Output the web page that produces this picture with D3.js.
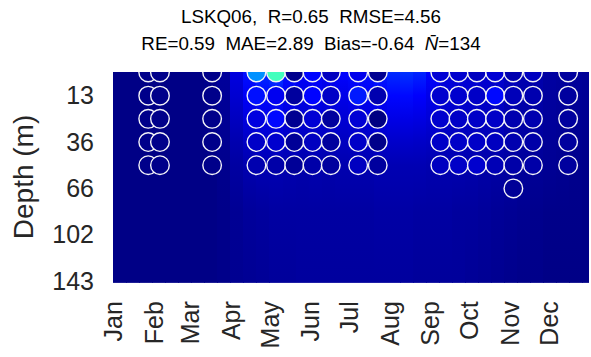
<!DOCTYPE html>
<html><head><meta charset="utf-8">
<script src="https://cdn.jsdelivr.net/npm/d3@7"></script>
<style>
body{margin:0;background:#fff}
svg{display:block}
text{font-family:"Liberation Sans",Arial,Helvetica,sans-serif}
</style>
</head><body>
<svg id="chart" width="591" height="357"></svg>
<script>
// ---------------- data ----------------
const titleLine1 = "LSKQ06,  R=0.65  RMSE=4.56";
const titleLine2 = "RE=0.59  MAE=2.89  Bias=-0.64  ";
const monthLabels = ["Jan","Feb","Mar","Apr","May","Jun","Jul","Aug","Sep","Oct","Nov","Dec"];
const depthTickLevels = [1,3,5,7,9];
const depthTickLabels = ["13","36","66","102","143"];

// model field: start day of each 10-day bin, depth-level index of profile values
const modelDays = [0,10,20,30,40,50,60,70,80,90,100,110,120,130,140,150,160,170,180,190,200,210,220,230,240,250,260,270,280,290,300,310,320,330,340,350,360];
const modelLevels = [0,1,2,3,4,6,9];
const modelValues = [
  [0.2,0.2,0.2,0.2,0.2,0.2,0.2],
  [0.2,0.2,0.2,0.2,0.2,0.2,0.2],
  [0.2,0.2,0.2,0.2,0.2,0.2,0.2],
  [0.2,0.2,0.2,0.2,0.2,0.2,0.2],
  [0.2,0.2,0.2,0.2,0.2,0.2,0.2],
  [0.2,0.2,0.2,0.2,0.2,0.2,0.2],
  [0.2,0.2,0.2,0.2,0.2,0.2,0.2],
  [0.3,0.3,0.3,0.25,0.2,0.2,0.2],
  [0.8,0.7,0.6,0.5,0.4,0.3,0.3],
  [2.8,2.4,1.9,1.4,1.0,0.6,0.5],
  [4.2,3.5,2.8,2.0,1.4,0.8,0.6],
  [5.0,4.0,3.0,2.2,1.5,0.9,0.7],
  [5.5,4.0,3.0,2.2,1.5,1.0,0.8],
  [4.2,3.4,2.6,2.0,1.4,1.0,0.8],
  [3.6,3.0,2.4,1.8,1.3,1.0,0.9],
  [3.8,3.2,2.5,1.9,1.4,1.0,0.9],
  [3.4,3.0,2.4,1.8,1.3,1.0,0.9],
  [3.8,3.1,2.5,1.9,1.4,1.0,0.9],
  [4.0,3.3,2.6,2.0,1.4,1.0,0.9],
  [4.2,3.4,2.6,2.0,1.4,1.0,0.9],
  [4.6,3.6,2.8,2.1,1.5,1.1,0.9],
  [5.0,3.9,3.0,2.2,1.5,1.1,0.9],
  [5.2,4.0,3.0,2.2,1.5,1.1,0.9],
  [4.8,3.7,2.9,2.1,1.5,1.0,0.8],
  [3.8,3.1,2.6,2.0,1.4,1.0,0.8],
  [2.8,2.5,2.2,1.8,1.4,1.0,0.8],
  [2.6,2.4,2.1,1.8,1.4,0.9,0.8],
  [2.5,2.3,2.0,1.7,1.3,0.9,0.7],
  [2.4,2.2,1.9,1.6,1.2,0.8,0.6],
  [2.3,2.1,1.8,1.5,1.1,0.7,0.5],
  [1.8,1.6,1.4,1.2,1.0,0.6,0.4],
  [1.4,1.3,1.1,1.0,0.8,0.5,0.3],
  [1.3,1.2,1.0,0.9,0.7,0.4,0.3],
  [1.0,0.9,0.8,0.7,0.6,0.3,0.2],
  [0.9,0.8,0.7,0.6,0.5,0.3,0.2],
  [0.8,0.7,0.6,0.5,0.4,0.3,0.2],
  [0.7,0.6,0.5,0.4,0.3,0.2,0.2]
];

// observations (circles)
const obsDates = ["2019-01-28","2019-02-06","2019-03-18","2019-04-21","2019-05-06","2019-05-20","2019-06-03","2019-06-17","2019-07-08","2019-07-23","2019-09-09","2019-09-23","2019-10-07","2019-10-21","2019-11-04","2019-11-19","2019-12-16"];
const obsLevel0 = [0.3,0.3,0.3,8.0,13.2,0.4,3.9,1.9,3.2,0.5,2.5,2.3,1.9,2.5,1.4,1.9,0.9];
const obsLevel1 = [0.3,0.3,0.3,4.2,3.3,0.9,3.8,2.1,4.5,1.4,2.3,2.3,2.1,4.0,1.7,1.4,0.9];
const obsLevel2 = [0.3,0.3,0.3,2.8,4.0,0.5,2.5,0.9,2.5,0.1,2.3,2.1,2.1,2.1,1.4,1.4,0.9];
const obsLevel3 = [0.3,0.3,0.3,2.1,2.3,0.7,1.9,0.9,2.1,0.3,2.1,2.1,2.1,1.9,1.4,1.2,0.9];
const obsLevel4 = [0.3,0.3,0.3,1.4,1.2,0.7,1.2,0.9,1.9,0.9,1.9,2.1,2.3,1.6,1.2,1.2,0.9];
const obsExtraDates = ["2019-11-04"];
const obsExtraLevels = [5];
const obsExtraValues = [0.7];
const colorMax = 30;

// ---------------- drawing ----------------
const svg = d3.select("#chart");
const L = 113, R = 589, T = 72.5, B = 282.7;
const parse = d3.timeParse("%Y-%m-%d");
const x = d3.scaleTime().domain([new Date(2019,0,1), new Date(2020,0,1)]).range([L, R]);
const y = d3.scaleLinear().domain([0, 9.07]).range([T, B]);

function jet(t){
  t = Math.max(0, Math.min(1, t));
  const f = (a)=>Math.max(0, Math.min(1, a));
  const r = f(Math.min(4*t - 1.5, -4*t + 4.5));
  const g = f(Math.min(4*t - 0.5, -4*t + 3.5));
  const b = f(Math.min(4*t + 0.5, -4*t + 2.5));
  return d3.rgb(r*255, g*255, b*255).formatHex();
}
const color = d3.scaleSequential(jet).domain([0, colorMax]).clamp(true);

const defs = svg.append("defs");
defs.append("clipPath").attr("id","plotclip")
  .append("rect").attr("x", L).attr("y", 72).attr("width", R-L).attr("height", B-72);

// model gradients
modelDays.forEach((d,i)=>{
  const g = defs.append("linearGradient").attr("id","col"+i)
    .attr("gradientUnits","userSpaceOnUse")
    .attr("x1",0).attr("x2",0).attr("y1",y(0)).attr("y2",y(9));
  modelLevels.forEach((lv,j)=>{
    g.append("stop").attr("offset", lv/9).attr("stop-color", color(modelValues[i][j]));
  });
});

const plot = svg.append("g").attr("clip-path","url(#plotclip)");
plot.append("rect").attr("x",L).attr("y",72).attr("width",R-L).attr("height",B-72).attr("fill",color(0.2));
plot.selectAll("rect.cell").data(modelDays).enter().append("rect")
  .attr("class","cell")
  .attr("x", d=>x(new Date(2019,0,1+d)))
  .attr("width", (d)=>x(new Date(2019,0,1+Math.min(d+10,365))) - x(new Date(2019,0,1+d)) + 0.6)
  .attr("y", 72).attr("height", B-72)
  .attr("shape-rendering","crispEdges")
  .attr("fill", (d,i)=>"url(#col"+i+")");

// circles
const obsRows = [obsLevel0, obsLevel1, obsLevel2, obsLevel3, obsLevel4];
const pts = [];
obsRows.forEach((row,k)=>row.forEach((v,i)=>pts.push({date:parse(obsDates[i]), level:k, value:v})));
obsExtraDates.forEach((dd,i)=>pts.push({date:parse(dd), level:obsExtraLevels[i], value:obsExtraValues[i]}));
plot.selectAll("circle.obs").data(pts).enter().append("circle")
  .attr("class","obs")
  .attr("cx", d=>x(d.date)).attr("cy", d=>y(d.level)).attr("r", 9.3)
  .attr("fill", d=>color(d.value))
  .attr("stroke", "#f2f2f8").attr("stroke-width", 1.4);

// y axis
const yAxis = svg.append("g").attr("transform",`translate(${L},0)`)
  .call(d3.axisLeft(y).tickValues(depthTickLevels).tickFormat((d,i)=>depthTickLabels[i]).tickSize(0).tickPadding(19));
yAxis.select(".domain").remove();
yAxis.selectAll("text").attr("font-size","25px").attr("fill","#262626").attr("font-family","Liberation Sans, Arial, sans-serif");

// x axis
const xAxis = svg.append("g").attr("transform",`translate(0,${B})`)
  .call(d3.axisBottom(x).tickValues(monthLabels.map((m,i)=>new Date(2019,i,1))).tickFormat((d,i)=>monthLabels[i]).tickSize(0));
xAxis.select(".domain").remove();
xAxis.selectAll("text")
  .attr("font-size","25px").attr("fill","#262626").attr("font-family","Liberation Sans, Arial, sans-serif")
  .attr("transform","rotate(-90)")
  .attr("text-anchor","end")
  .attr("x", -18.5).attr("y", 8.7).attr("dy", 0);

// y label
svg.append("text").attr("transform","translate(33,177) rotate(-90)")
  .attr("text-anchor","middle").attr("font-size","28px").attr("fill","#262626")
  .text("Depth (m)");

// title
svg.append("text").attr("x",311).attr("y",23).attr("text-anchor","middle")
  .attr("font-size","18.8px").attr("fill","#000").style("white-space","pre").text(titleLine1);
const t2 = svg.append("text").attr("x",311).attr("y",50).attr("text-anchor","middle")
  .attr("font-size","18.8px").attr("fill","#000").style("white-space","pre");
t2.append("tspan").text(titleLine2);
t2.append("tspan").attr("font-style","italic").text("N\u0304");
t2.append("tspan").text("=134");
</script>
</body></html>
